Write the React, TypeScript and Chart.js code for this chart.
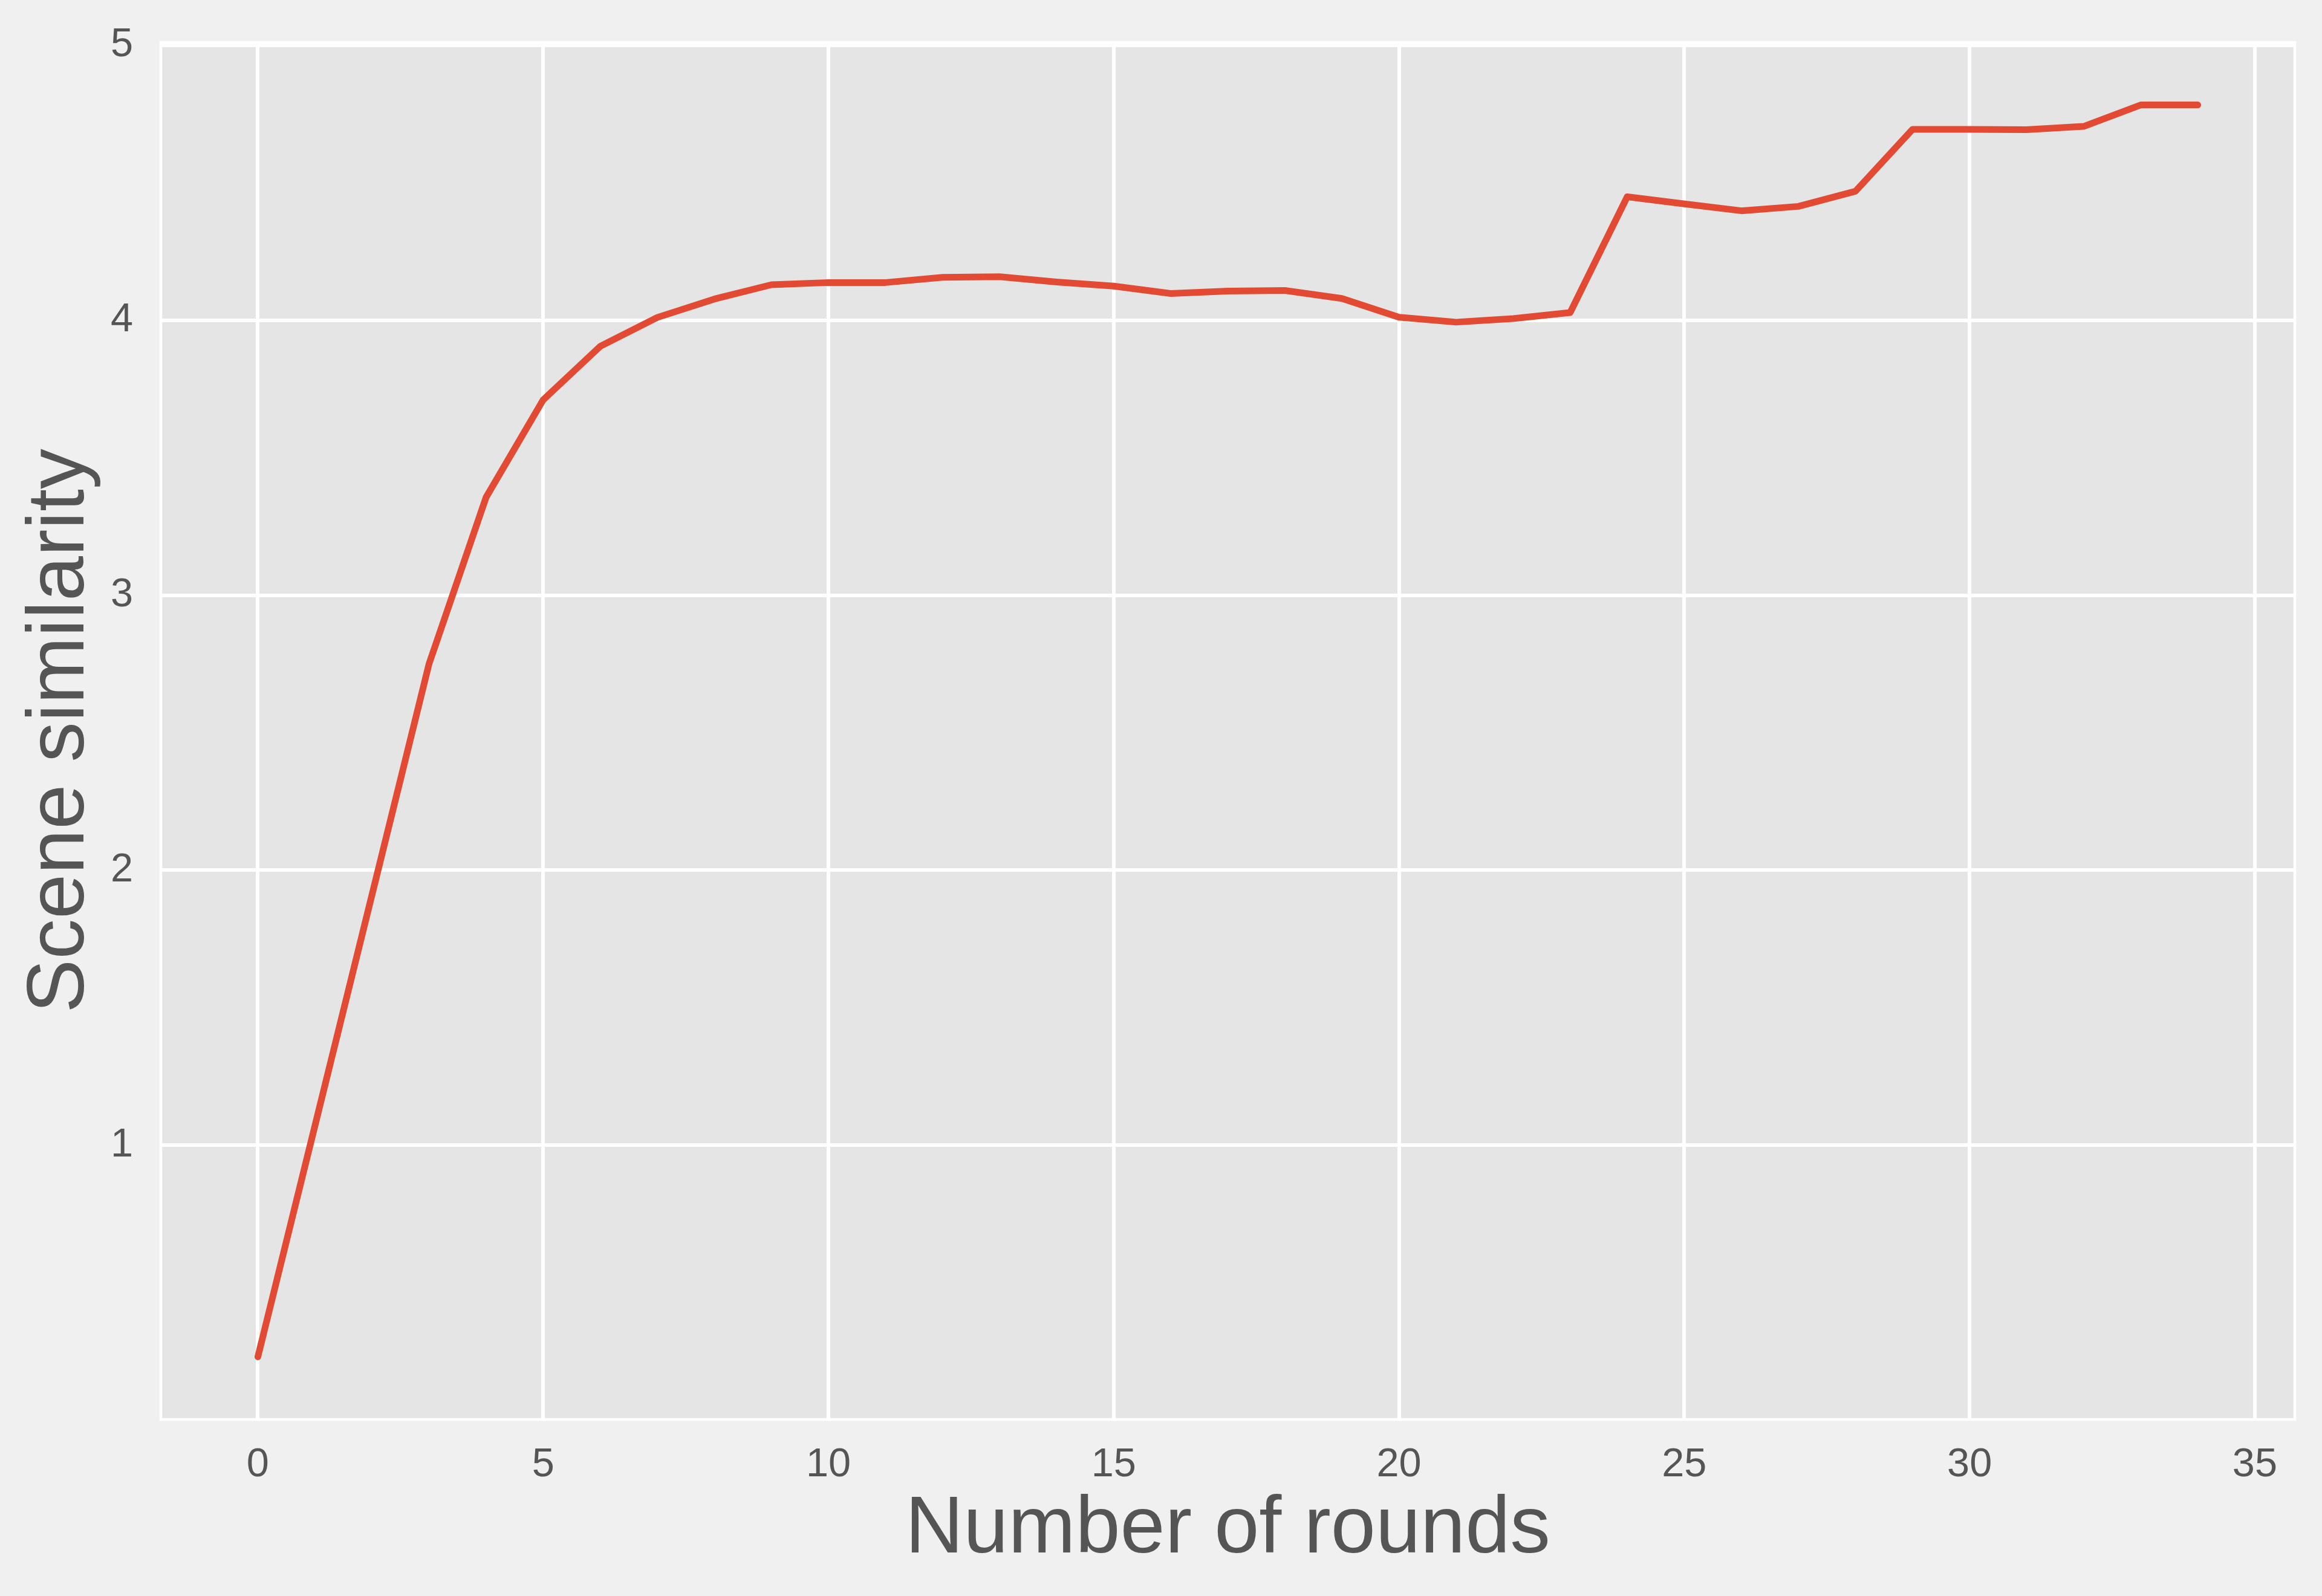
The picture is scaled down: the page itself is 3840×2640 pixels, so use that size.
import React, { useEffect, useRef } from "react";
import { Chart, registerables } from "chart.js";

Chart.register(...registerables);

// ---- data ----
const rounds = [
  0, 1, 2, 3, 4, 5, 6, 7, 8, 9, 10, 11, 12, 13, 14, 15, 16, 17, 18, 19, 20, 21,
  22, 23, 24, 25, 26, 27, 28, 29, 30, 31, 32, 33, 34,
];
const similarity = [
  0.23, 1.07, 1.91, 2.75, 3.356, 3.71, 3.905, 4.01, 4.077, 4.129, 4.137, 4.137,
  4.156, 4.158, 4.139, 4.124, 4.097, 4.106, 4.108, 4.079, 4.011, 3.993, 4.006,
  4.028, 4.449, 4.423, 4.398, 4.414, 4.469, 4.694, 4.694, 4.693, 4.705, 4.783,
  4.783,
];
const xTicks = [0, 5, 10, 15, 20, 25, 30, 35];
const yTicks = [1, 2, 3, 4, 5];
const xTitle = "Number of rounds";
const yTitle = "Scene similarity";

// ---- layout / style ----
const W = 3840;
const H = 2640;
const PLOT = { left: 266, right: 3795, top: 70, bottom: 2348 };
const FONT = "'Liberation Sans', Arial, Helvetica, sans-serif";
const TEXT = "#555555";

export default function App() {
  const ref = useRef<HTMLCanvasElement>(null);

  useEffect(() => {
    const canvas = ref.current;
    if (!canvas) return;

    const lo = Math.min(...similarity);
    const hi = Math.max(...similarity);
    const yPad = 0.05 * (hi - lo);
    const xLo = Math.min(...rounds);
    const xHi = Math.max(...rounds);
    const xPad = 0.05 * (xHi - xLo);

    const framePlugin = {
      id: "ggFrame",
      beforeDraw(chart: any) {
        const { ctx, chartArea: a } = chart;
        ctx.save();
        ctx.fillStyle = "#F0F0F0";
        ctx.fillRect(0, 0, chart.width, chart.height);
        ctx.fillStyle = "#E5E5E5";
        ctx.fillRect(a.left, a.top, a.right - a.left, a.bottom - a.top);
        ctx.restore();
      },
      afterDraw(chart: any) {
        const { ctx, chartArea: a } = chart;
        ctx.save();
        ctx.strokeStyle = "#FFFFFF";
        ctx.lineWidth = 4.5;
        ctx.strokeRect(a.left, a.top, a.right - a.left, a.bottom - a.top);
        ctx.restore();
      },
    };

    const chart = new Chart(canvas, {
      type: "line",
      data: {
        datasets: [
          {
            data: rounds.map((r, i) => ({ x: r, y: similarity[i] })),
            borderColor: "#E24A33",
            backgroundColor: "#E24A33",
            borderWidth: 11,
            pointRadius: 0,
            tension: 0,
            borderCapStyle: "round",
            borderJoinStyle: "round",
            fill: false,
          },
        ],
      },
      options: {
        responsive: false,
        animation: false,
        devicePixelRatio: 1,
        layout: {
          padding: { top: PLOT.top, right: W - PLOT.right, left: 0, bottom: 0 },
        },
        plugins: {
          legend: { display: false },
          tooltip: { enabled: false },
        },
        scales: {
          x: {
            type: "linear",
            position: "bottom",
            min: xLo - xPad,
            max: xHi + xPad,
            afterBuildTicks: (s: any) => {
              s.ticks = xTicks.map((v) => ({ value: v }));
            },
            afterFit: (s: any) => {
              s.height = H - PLOT.bottom;
              s.paddingLeft = 0;
              s.paddingRight = 0;
            },
            grid: { color: "#FFFFFF", lineWidth: 6, drawTicks: false },
            border: { display: false },
            ticks: {
              color: TEXT,
              font: { family: FONT, size: 66.7, lineHeight: 1 },
              padding: 42,
              maxRotation: 0,
              autoSkip: false,
              callback: (v: any) => String(v),
            },
            title: {
              display: true,
              text: xTitle,
              color: TEXT,
              font: { family: FONT, size: 133.3, lineHeight: 1 },
              padding: { top: 0, bottom: 42 },
            },
          },
          y: {
            type: "linear",
            position: "left",
            min: lo - yPad,
            max: hi + yPad,
            afterBuildTicks: (s: any) => {
              s.ticks = yTicks.map((v) => ({ value: v }));
            },
            afterFit: (s: any) => {
              s.width = PLOT.left;
              s.paddingTop = 0;
              s.paddingBottom = 0;
            },
            grid: { color: "#FFFFFF", lineWidth: 6, drawTicks: false },
            border: { display: false },
            ticks: {
              color: TEXT,
              font: { family: FONT, size: 66.7, lineHeight: 1 },
              padding: 46,
              autoSkip: false,
              callback: (v: any) => String(v),
            },
            title: {
              display: true,
              text: yTitle,
              color: TEXT,
              font: { family: FONT, size: 133.3, lineHeight: 1 },
              padding: { top: 35, bottom: 0 },
            },
          },
        },
      },
      plugins: [framePlugin],
    } as any);

    return () => chart.destroy();
  }, []);

  return (
    <div
      style={{
        position: "fixed",
        left: 0,
        top: 0,
        width: W,
        height: H,
        background: "#F0F0F0",
      }}
    >
      <canvas
        ref={ref}
        width={W}
        height={H}
        style={{ display: "block", width: W, height: H }}
      />
    </div>
  );
}
